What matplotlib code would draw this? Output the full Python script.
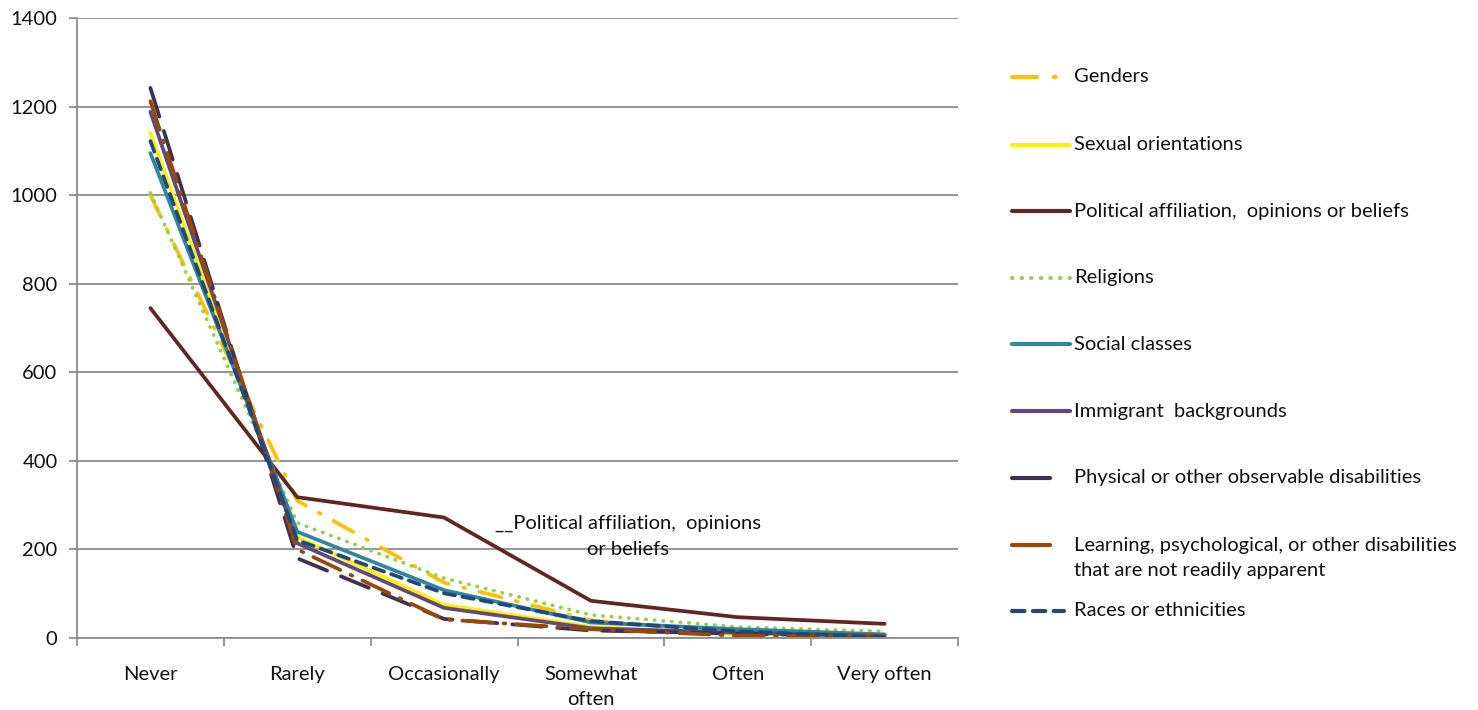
import matplotlib
matplotlib.use("Agg")
import matplotlib.pyplot as plt
from matplotlib.lines import Line2D
import numpy as np

# ---------------------------------------------------------------
# data
# ---------------------------------------------------------------
categories = ["Never", "Rarely", "Occasionally", "Somewhat\noften", "Often", "Very often"]

genders     = [1000, 310, 125, 40, 12, 8]
sexual      = [1140, 228, 75, 25, 8, 8]
political   = [745, 318, 272, 84, 47, 32]
religions   = [1005, 260, 135, 52, 25, 15]
social      = [1095, 240, 108, 35, 20, 8]
immigrant   = [1188, 214, 68, 22, 12, 5]
physical    = [1242, 180, 43, 17, 10, 3]
learning    = [1212, 200, 42, 20, 5, 5]
races       = [1122, 221, 101, 38, 15, 2]

labels = [
    "Genders",
    "Sexual orientations",
    "Political affiliation,  opinions or beliefs",
    "Religions",
    "Social classes",
    "Immigrant  backgrounds",
    "Physical or other observable disabilities",
    "Learning, psychological, or other disabilities\nthat are not readily apparent",
    "Races or ethnicities",
]
series = [genders, sexual, political, religions, social, immigrant, physical, learning, races]

# styles
colors = ["#FFC000", "#FFEF0A", "#632523", "#92D050", "#31859C",
          "#604A7B", "#3F3151", "#984807", "#1F497D"]
styles = [(0, (6, 4, 0.5, 4)), "-", "-", (0, (0.1, 2.2)), "-",
          "-", (0, (8, 4)), (0, (8, 3, 0.5, 3)), (0, (3, 2))]

FS = 14.5
plt.rcParams.update({
    "font.family": ["Lato", "DejaVu Sans"],
    "font.size": FS,
})

fig = plt.figure(figsize=(14.78, 7.10), dpi=100)
ax = fig.add_axes([77 / 1478, 72 / 710, 881 / 1478, 620 / 710])

x = np.arange(len(categories))
for vals, col, ls in zip(series, colors, styles):
    ax.plot(x, vals, color=col, linestyle=ls, linewidth=2.7,
            solid_capstyle="round", dash_capstyle="round", solid_joinstyle="round")

ax.set_xlim(-0.5, len(categories) - 0.5)
ax.set_ylim(0, 1400)
ax.set_yticks(np.arange(0, 1401, 200))
ax.yaxis.grid(True, color="#8C8C8C", linewidth=1.3)
ax.set_axisbelow(True)

ax.set_xticks(x)
ax.set_xticklabels(categories, fontsize=FS, color="#111111", linespacing=1.6)
ax.set_xticks(np.arange(-0.5, len(categories)), minor=True)
ax.tick_params(axis="x", which="major", length=0, pad=20)
ax.tick_params(axis="x", which="minor", length=6, width=1.3, color="#8C8C8C")
ax.tick_params(axis="y", length=6, width=1.3, color="#8C8C8C", labelsize=FS, pad=8,
               labelcolor="#111111")
for s in ["top", "right"]:
    ax.spines[s].set_visible(False)
for s in ["left", "bottom"]:
    ax.spines[s].set_color("#8C8C8C")
    ax.spines[s].set_linewidth(1.3)

# data label on the political series
ax.text(3.25, 229, "__Political affiliation,  opinions\nor beliefs", ha="center", va="center",
        fontsize=FS, color="#111111", linespacing=1.65)

# ---------------------------------------------------------------
# legend (manual, Excel-like spacing)
# ---------------------------------------------------------------
leg_y = [77, 145, 211, 278, 344, 411, 478, 545, 611]
handle_len = [58, 58, 58, 58, 58, 58, 38, 38, 52]
for lab, col, ls, yp, hl in zip(labels, colors, styles, leg_y, handle_len):
    fy = 1 - yp / 710
    ls_leg = "-" if hl == 38 else ls
    fig.add_artist(Line2D([1012 / 1478, (1012 + hl) / 1478], [fy, fy],
                          transform=fig.transFigure, color=col, linestyle=ls_leg,
                          linewidth=3, solid_capstyle="round", dash_capstyle="round"))
    if "\n" in lab:
        fig.text(1074 / 1478, fy - 13 / 710, lab, ha="left", va="center",
                 fontsize=FS, color="#111111", linespacing=1.6)
    else:
        fig.text(1074 / 1478, fy, lab, ha="left", va="center",
                 fontsize=FS, color="#111111")

fig.savefig("out.png", dpi=100, facecolor="white")
